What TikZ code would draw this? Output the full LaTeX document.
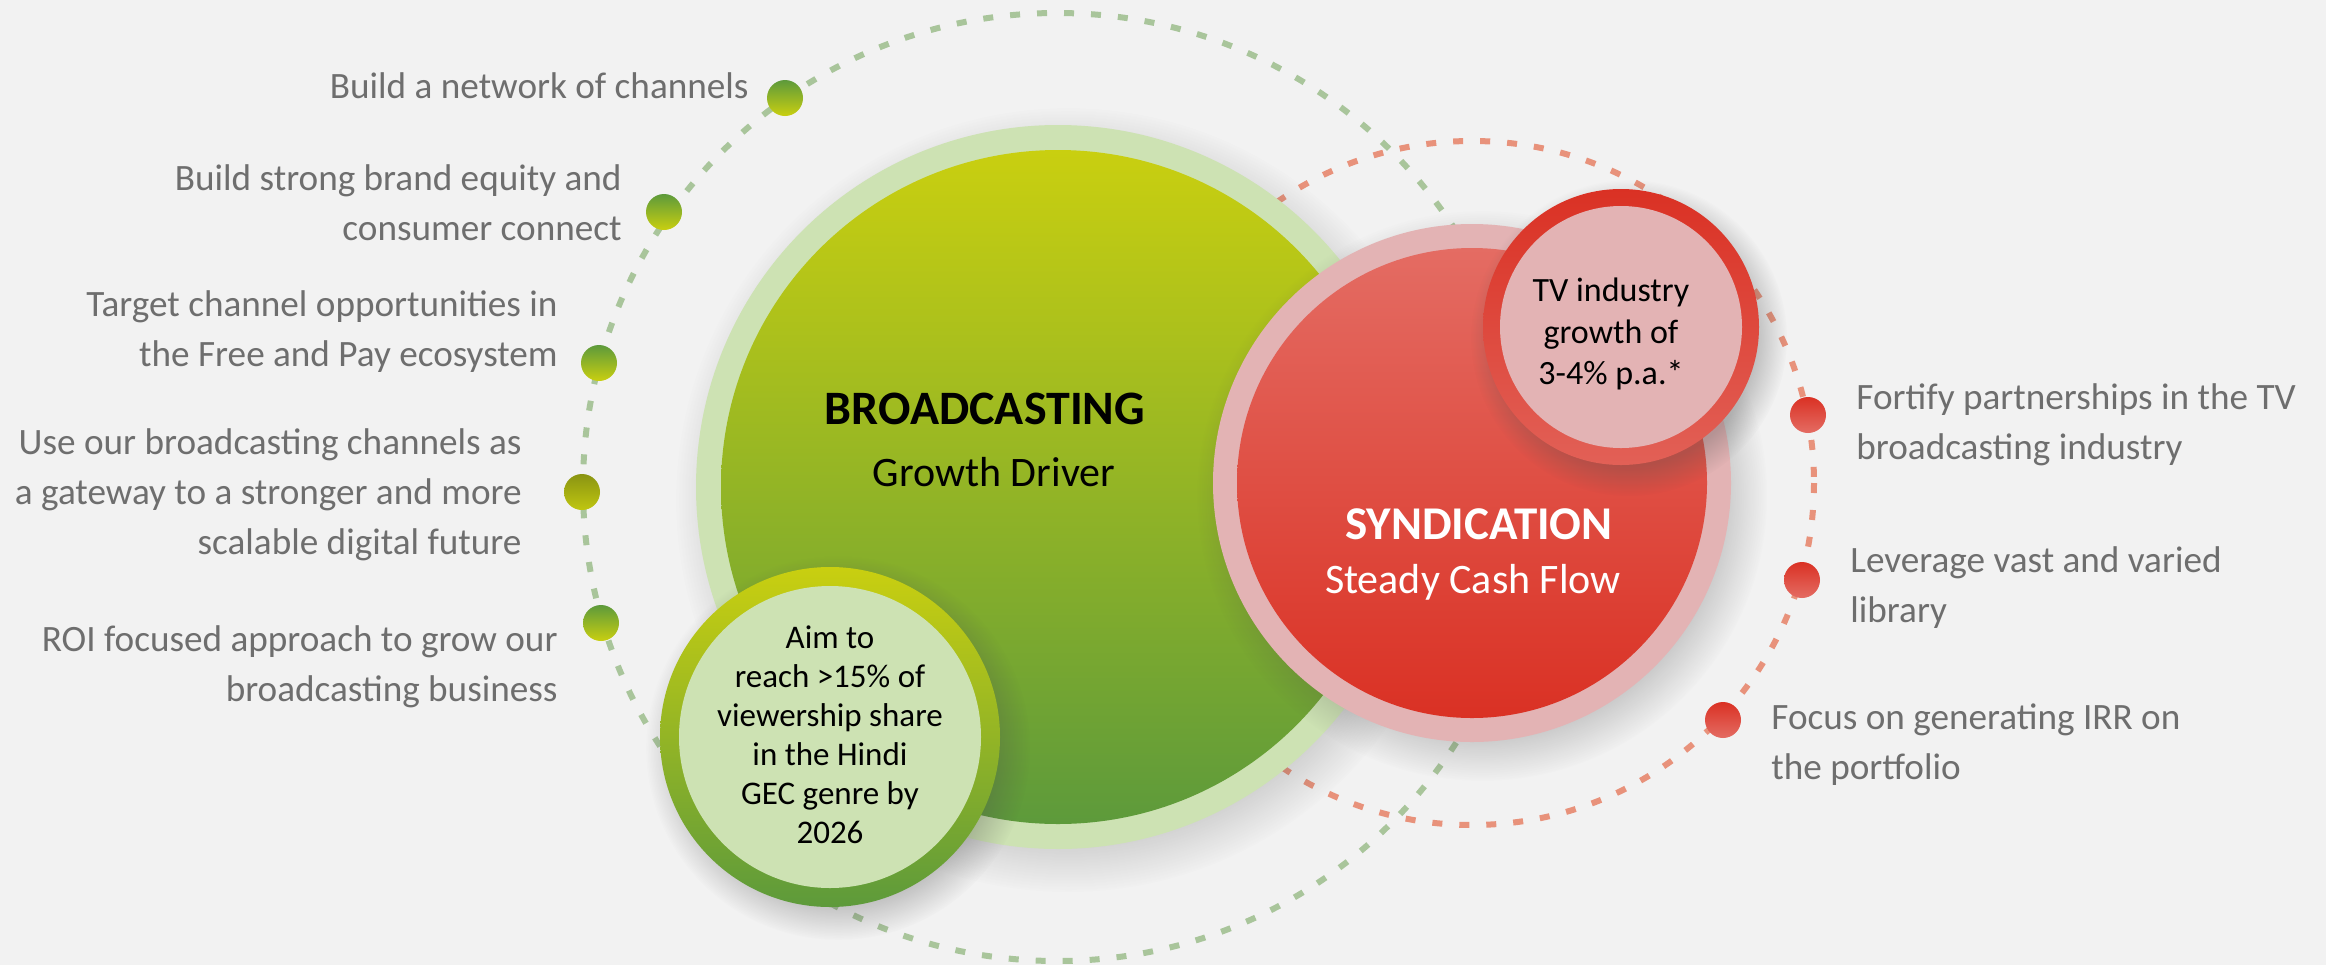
\documentclass[tikz,border=0pt]{standalone}
\usepackage{fontspec}
\setmainfont{Carlito}
\usetikzlibrary{fadings}

\definecolor{paper}{HTML}{F2F2F2}
\definecolor{notegray}{HTML}{6E6E6E}
\definecolor{leafpale}{HTML}{CDE2B3}
\definecolor{leafyellow}{HTML}{C9CF10}
\definecolor{leafgreen}{HTML}{5D9A3B}
\definecolor{leafolive}{HTML}{8A9412}
\definecolor{leafdash}{HTML}{A9C59B}
\definecolor{rosepale}{HTML}{E3B3B4}
\definecolor{redlight}{HTML}{E46C63}
\definecolor{reddeep}{HTML}{DA3124}
\definecolor{reddash}{HTML}{E8927B}

\tikzset{
  orbit/.style={line width=3pt, dash pattern=on 5pt off 8.5pt},
  glow/.style={fill=black!70, opacity=0.3, path fading=circle with fuzzy edge 20 percent},
  disc/.style={circle, inner sep=0pt, outer sep=0pt},
  note/.style={text=notegray, inner sep=0pt, font=\fontsize{18.6}{25}\selectfont},
  gdot/.style={disc, minimum size=18pt, top color=leafgreen, bottom color=leafyellow},
  rdot/.style={disc, minimum size=18pt, top color=reddeep, bottom color=redlight},
}

\begin{document}
\begin{tikzpicture}[x=0.5pt,y=0.5pt,yscale=-1,xscale=1]
 \fill[paper] (0,0) rectangle (2326,965);
 \useasboundingbox (0,0) rectangle (2326,965);

 % orbits behind everything
 \coordinate (gorbit) at (1057,487);
 \coordinate (rorbit) at (1472,483);
 \draw[orbit, leafdash] (gorbit) circle (474);
 \draw[orbit, reddash] (rorbit) circle (342);

 % broadcasting
 \fill[glow] (1068,500) circle (392);
 \node[disc, fill=leafpale, minimum size=362pt] (bcastrim) at (1058,487) {};
 \node[disc, top color=leafyellow, bottom color=leafgreen, minimum size=337pt] (bcast) at (bcastrim.center) {};
 \node[font=\bfseries\fontsize{24}{28}\selectfont] (bcasttitle) at (985,409) {BROADCASTING};
 \node[font=\fontsize{21}{25}\selectfont] (bcastsub) at (994,472) {Growth Driver};

 % syndication
 \fill[glow] (1482,496) circle (285);
 \node[disc, fill=rosepale, minimum size=259pt] (syndrim) at (1472,483) {};
 \node[disc, top color=redlight, bottom color=reddeep, minimum size=235pt] (synd) at (syndrim.center) {};
 \node[text=white, font=\bfseries\fontsize{23.5}{28}\selectfont] (syndtitle) at (1479,524) {SYNDICATION};
 \node[text=white, font=\fontsize{21}{25}\selectfont] (syndsub) at (1473,582) {Steady Cash Flow};

 % industry growth
 \fill[glow] (1629,338) circle (158);
 \node[disc, top color=reddeep, bottom color=redlight!80!reddeep, minimum size=138pt] (tvrim) at (1621,327) {};
 \node[disc, fill=rosepale, minimum size=121pt] (tv) at (tvrim.center) {};
 \node[align=center, font=\fontsize{17}{20.75}\selectfont] (tvtext) at (1611,334) {TV industry\\growth of\\3-4\% p.a.*};

 % viewership target
 \fill[glow] (838,748) circle (192);
 \node[disc, top color=leafyellow, bottom color=leafgreen, minimum size=170pt] (aimrim) at (830,737) {};
 \node[disc, fill=leafpale, minimum size=151pt] (aim) at (aimrim.center) {};
 \node[align=center, font=\fontsize{16.5}{19.5}\selectfont] (aimtext) at (830,735) {Aim to\\reach >15\% of\\viewership share\\in the Hindi\\GEC genre by\\2026};

 % green points
 \node[gdot] (gd1) at (785,98) {};
 \node[gdot] (gd2) at (664,212) {};
 \node[gdot] (gd3) at (599,363) {};
 \node[gdot, top color=leafolive, bottom color=leafyellow!85!leafolive] (gd4) at (582,492) {};
 \node[gdot] (gd5) at (601,623) {};

 \node[note, anchor=east, align=right] (gn1) at (749,86) {Build a network of channels};
 \node[note, anchor=east, align=right] (gn2) at (622,203) {Build strong brand equity and\\consumer connect};
 \node[note, anchor=east, align=right] (gn3) at (558,332) {Target channel opportunities in\\the Free and Pay ecosystem};
 \node[note, anchor=east, align=right] (gn4) at (522,495) {Use our broadcasting channels as\\a gateway to a stronger and more\\scalable digital future};
 \node[note, anchor=east, align=right] (gn5) at (558,667) {ROI focused approach to grow our\\broadcasting business};

 % red points
 \node[rdot] (rd1) at (1808,415) {};
 \node[rdot] (rd2) at (1802,580) {};
 \node[rdot] (rd3) at (1723,720) {};

 \node[note, anchor=west, align=left] (rn1) at (1856,425) {Fortify partnerships in the TV\\broadcasting industry};
 \node[note, anchor=west, align=left] (rn2) at (1850,588) {Leverage vast and varied\\library};
 \node[note, anchor=west, align=left] (rn3) at (1771,745) {Focus on generating IRR on\\the portfolio};
\end{tikzpicture}
\end{document}
